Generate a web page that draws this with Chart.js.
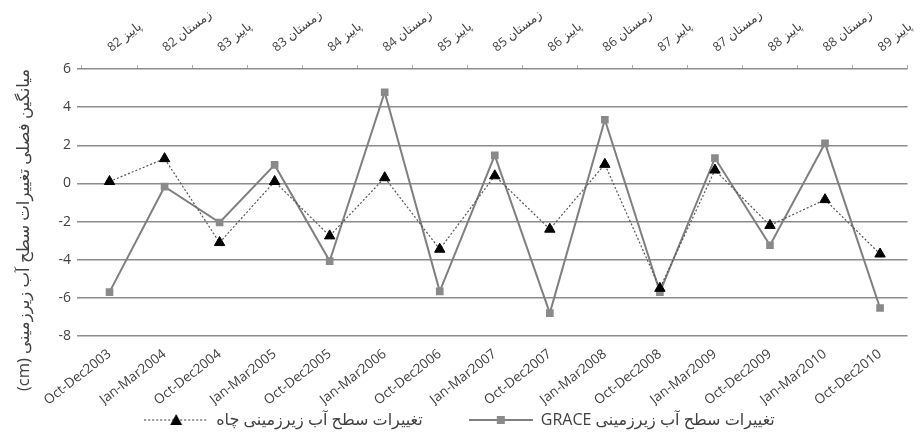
<!DOCTYPE html>
<html>
<head>
<meta charset="utf-8">
<script src="https://cdn.jsdelivr.net/npm/chart.js@4/dist/chart.umd.min.js"></script>
<style>
  html, body { margin: 0; padding: 0; background: #fff; }
  #wrap { width: 921px; height: 438px; }
</style>
</head>
<body>
<div id="wrap"><canvas id="chart" width="921" height="438"></canvas></div>
<script>
// Data
const seasons = ['Oct-Dec2003', 'Jan-Mar2004', 'Oct-Dec2004', 'Jan-Mar2005', 'Oct-Dec2005',
  'Jan-Mar2006', 'Oct-Dec2006', 'Jan-Mar2007', 'Oct-Dec2007', 'Jan-Mar2008',
  'Oct-Dec2008', 'Jan-Mar2009', 'Oct-Dec2009', 'Jan-Mar2010', 'Oct-Dec2010'];
const persianSeasons = ['پاییز 82', 'زمستان 82', 'پاییز 83', 'زمستان 83', 'پاییز 84',
  'زمستان 84', 'پاییز 85', 'زمستان 85', 'پاییز 86', 'زمستان 86',
  'پاییز 87', 'زمستان 87', 'پاییز 88', 'زمستان 88', 'پاییز 89'];
const wellValues = [0.1, 1.3, -3.1, 0.1, -2.75, 0.3, -3.45, 0.4, -2.4, 1.0, -5.5, 0.7, -2.2, -0.85, -3.7];
const graceValues = [-5.7, -0.17, -2.05, 0.97, -4.07, 4.78, -5.66, 1.47, -6.8, 3.34, -5.7, 1.33, -3.24, 2.1, -6.53];
const yTicks = [-8, -6, -4, -2, 0, 2, 4, 6];

const wellLabel = 'تغییرات سطح آب زیرزمینی چاه';
const graceLabel = 'تغییرات سطح آب زیرزمینی GRACE';
const yTitle = 'میانگین فصلی تغییرات سطح آب زیرزمینی (cm)';

const FONT = "'Open Sans', 'DejaVu Sans', sans-serif";
const TEXT = '#404040';

// wrap text in a right-to-left embedding so the canvas keeps LTR elsewhere
const rtl = (s) => '\u202B' + s + '\u202C';

// small legend swatches: line + marker
function swatch(kind) {
  const c = document.createElement('canvas');
  c.width = 64; c.height = 14;
  const g = c.getContext('2d');
  g.beginPath();
  g.moveTo(0, 7); g.lineTo(64, 7);
  if (kind === 'well') {
    g.setLineDash([2, 2]);
    g.strokeStyle = '#555';
    g.lineWidth = 1.2;
  } else {
    g.strokeStyle = '#7f7f7f';
    g.lineWidth = 2;
  }
  g.stroke();
  g.setLineDash([]);
  if (kind === 'well') {
    g.fillStyle = '#000';
    g.beginPath();
    g.moveTo(32, 1); g.lineTo(38, 12); g.lineTo(26, 12); g.closePath();
    g.fill();
  } else {
    g.fillStyle = '#8a8a8a';
    g.fillRect(28, 3, 8, 8);
  }
  return c;
}
const wellSwatch = swatch('well');
const graceSwatch = swatch('grace');

// vertical axis title, right-to-left text
const yTitlePlugin = {
  id: 'yTitle',
  afterDraw(chart) {
    const g = chart.ctx;
    g.save();
    g.translate(24, 230);
    g.rotate(-Math.PI / 2);
    g.direction = 'rtl';
    g.textAlign = 'center';
    g.textBaseline = 'middle';
    g.fillStyle = TEXT;
    g.font = '16.5px ' + FONT;
    g.fillText(yTitle, 0, 0);
    g.restore();
  }
};

const ctx = document.getElementById('chart').getContext('2d');
new Chart(ctx, {
  type: 'line',
  data: {
    labels: seasons,
    datasets: [{
      label: wellLabel,
      data: wellValues,
      borderColor: '#555',
      borderWidth: 1.2,
      borderDash: [2, 2],
      pointStyle: 'triangle',
      pointRadius: 6,
      pointBackgroundColor: '#000',
      pointBorderColor: '#000',
      pointBorderWidth: 1,
      tension: 0,
      order: 1
    }, {
      label: graceLabel,
      data: graceValues,
      borderColor: '#7f7f7f',
      borderWidth: 2,
      pointStyle: 'rect',
      pointRadius: 4,
      pointBackgroundColor: '#8a8a8a',
      pointBorderColor: '#8a8a8a',
      tension: 0,
      order: 2
    }]
  },
  options: {
    responsive: false,
    animation: false,
    layout: { padding: { left: 0, right: 2, top: 0, bottom: 0 } },
    plugins: {
      tooltip: { enabled: false },
      legend: {
        position: 'bottom',
        labels: {
          usePointStyle: true,
          pointStyleWidth: 64,
          boxHeight: 14,
          color: TEXT,
          font: { family: FONT, size: 16 },
          padding: 6,
          generateLabels: (chart) => chart.data.datasets.map((ds, i) => ({
            // extra gap after the first entry
            text: i === 0 ? rtl(ds.label) + '\u2003\u2003\u2002' : rtl(ds.label),
            pointStyle: i === 0 ? wellSwatch : graceSwatch,
            fontColor: TEXT,
            hidden: false,
            datasetIndex: i
          }))
        }
      }
    },
    scales: {
      x: {
        position: 'bottom',
        offset: true,
        grid: { display: false },
        border: { display: false },
        ticks: {
          color: TEXT,
          font: { family: FONT, size: 13.5 },
          minRotation: 38,
          maxRotation: 38,
          padding: 2
        },
        afterFit: (s) => { s.height = 70; }
      },
      x2: {
        position: 'top',
        type: 'category',
        labels: persianSeasons,
        offset: true,
        grid: { display: true, drawOnChartArea: false, offset: true, tickLength: 4, color: '#aaa' },
        border: { display: false },
        ticks: {
          color: TEXT,
          font: { family: FONT, size: 12.5 },
          minRotation: 38,
          maxRotation: 38,
          padding: 10,
          labelOffset: 9
        },
        afterFit: (s) => { s.height = 69; }
      },
      y: {
        min: -8,
        max: 6,
        afterBuildTicks: (s) => { s.ticks = yTicks.map(v => ({ value: v })); },
        border: { display: false },
        grid: { color: '#8c8c8c', lineWidth: 1.5, tickLength: 5 },
        ticks: {
          color: TEXT,
          font: { family: FONT, size: 14 },
          padding: 6
        },
        afterFit: (s) => { s.width = 82; }
      }
    }
  },
  plugins: [yTitlePlugin]
});
</script>
</body>
</html>
